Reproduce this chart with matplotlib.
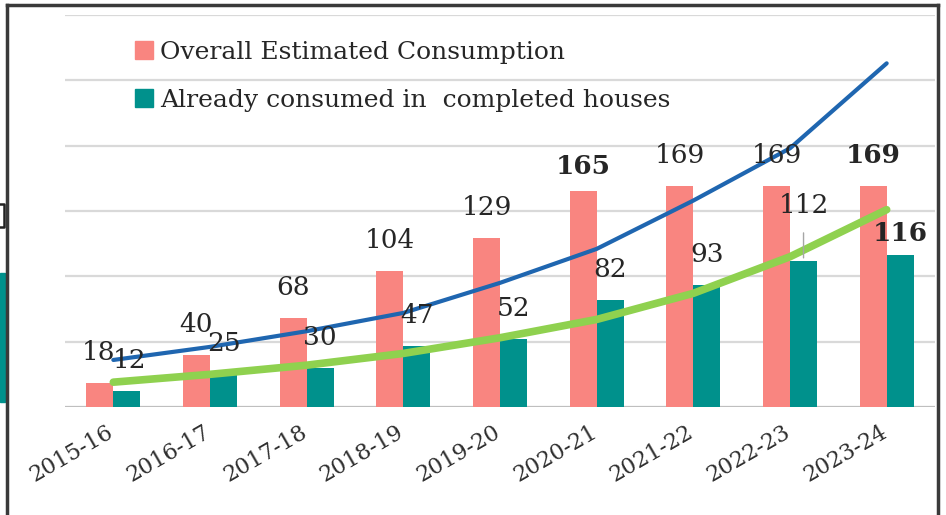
import matplotlib
matplotlib.use("Agg")
import matplotlib.pyplot as plt
from matplotlib.patches import Patch, Rectangle
from matplotlib.lines import Line2D
from matplotlib.transforms import ScaledTranslation
import numpy as np

# ---- data ----
years = ["2015-16", "2016-17", "2017-18", "2018-19", "2019-20",
         "2020-21", "2021-22", "2022-23", "2023-24"]
overall = [18, 40, 68, 104, 129, 165, 169, 169, 169]
consumed = [12, 25, 30, 47, 52, 82, 93, 112, 116]
# trend lines
overall_trend = [36, 46, 58, 72, 95, 121, 158, 198, 263]
consumed_trend = [19, 25, 32, 41, 53, 67, 87, 115, 151]
bold_overall = [False, False, False, False, False, True, False, False, True]
bold_consumed = [False] * 8 + [True]
series_names = ["Overall Estimated Consumption", "Already consumed in  completed houses"]

PINK = "#F98580"
TEAL = "#00918C"
BLUE = "#1F66B0"
GREEN = "#8FD14F"
TXT = "#262626"
SERIF = ["DejaVu Serif"]

W, H = 946, 515
fig = plt.figure(figsize=(W / 100, H / 100), dpi=100)
ax = fig.add_axes([65 / W, (H - 407) / H, (935 - 65) / W, (407 - 15) / H])

x = np.arange(len(years))
bw = 0.28
ax.bar(x - bw / 2, overall, bw, color=PINK, zorder=2)
ax.bar(x + bw / 2, consumed, bw, color=TEAL, zorder=2)

ax.plot(x, overall_trend, color=BLUE, lw=3, zorder=3, solid_capstyle="round")
ax.plot(x, consumed_trend, color=GREEN, lw=5.5, zorder=3, solid_capstyle="round")

ax.set_xlim(-0.5, len(years) - 0.5)
ax.set_ylim(0, 300)
ax.set_yticks([])
for gy in range(50, 301, 50):
    ax.axhline(gy, color="#D9D9D9", lw=1.6, zorder=0)
ax.axhline(0, color="#BFBFBF", lw=1.6, zorder=1)
for s in ax.spines.values():
    s.set_visible(False)

ax.set_xticks(x)
ax.set_xticklabels(years, family=SERIF, fontsize=16, color="#2E2E2E")
ax.tick_params(axis="x", length=0, pad=10)
shift = ScaledTranslation(-7 / 100, 0, fig.dpi_scale_trans)
for lab in ax.get_xticklabels():
    lab.set_rotation(30)
    lab.set_ha("right")
    lab.set_va("top")
    lab.set_rotation_mode("anchor")
    lab.set_transform(lab.get_transform() + shift)

# data labels
for i, (v, b) in enumerate(zip(overall, bold_overall)):
    dx, dy = 0, 22
    if i == 0:
        dx = -1
    if i == 5:
        dy = 18
    ax.annotate(str(v), (i - bw / 2, v), xytext=(dx, dy), textcoords="offset points",
                ha="center", va="center", fontsize=19, family=SERIF, color=TXT,
                fontweight="bold" if b else "normal", zorder=4)
for i, (v, b) in enumerate(zip(consumed, bold_consumed)):
    dx, dy = 0, 22
    kw = {}
    if i == 0:
        dx = 2
    if i == 7:
        dy = 40
        kw = dict(arrowprops=dict(arrowstyle="-", color="#A6A6A6", lw=1,
                                  shrinkA=9, shrinkB=2))
    if i == 8:
        dy = 16
    ax.annotate(str(v), (i + bw / 2, v), xytext=(dx, dy), textcoords="offset points",
                ha="center", va="center", fontsize=19, family=SERIF, color=TXT,
                fontweight="bold" if b else "normal", zorder=4, **kw)

# legend
handles = [Patch(color=PINK), Patch(color=TEAL)]
leg = ax.legend(handles, series_names, loc="upper left",
                bbox_to_anchor=(125 / W, 1 - 31 / H), bbox_transform=fig.transFigure,
                frameon=False, prop=dict(family=SERIF, size=18),
                handlelength=0.72, handleheight=0.72, handletextpad=0.3,
                labelspacing=1.0, borderaxespad=0)
for t in leg.get_texts():
    t.set_color(TXT)

# outer frame and left-edge fragments
frame_kw = dict(color="#3A3A3A", lw=2.5, transform=None)
fig.add_artist(Line2D([7, 7], [0, H - 5], **frame_kw))
fig.add_artist(Line2D([7, 938], [H - 5, H - 5], **frame_kw))
fig.add_artist(Line2D([938, 938], [0, H - 5], **frame_kw))
fig.add_artist(Rectangle((0, H - 402), 5, 129, color=TEAL, transform=None))
fig.add_artist(Line2D([0, 4, 4, 0], [H - 204, H - 204, H - 227, H - 227],
                      color="#222222", lw=1.8, transform=None))

fig.savefig("out.png", dpi=100)
